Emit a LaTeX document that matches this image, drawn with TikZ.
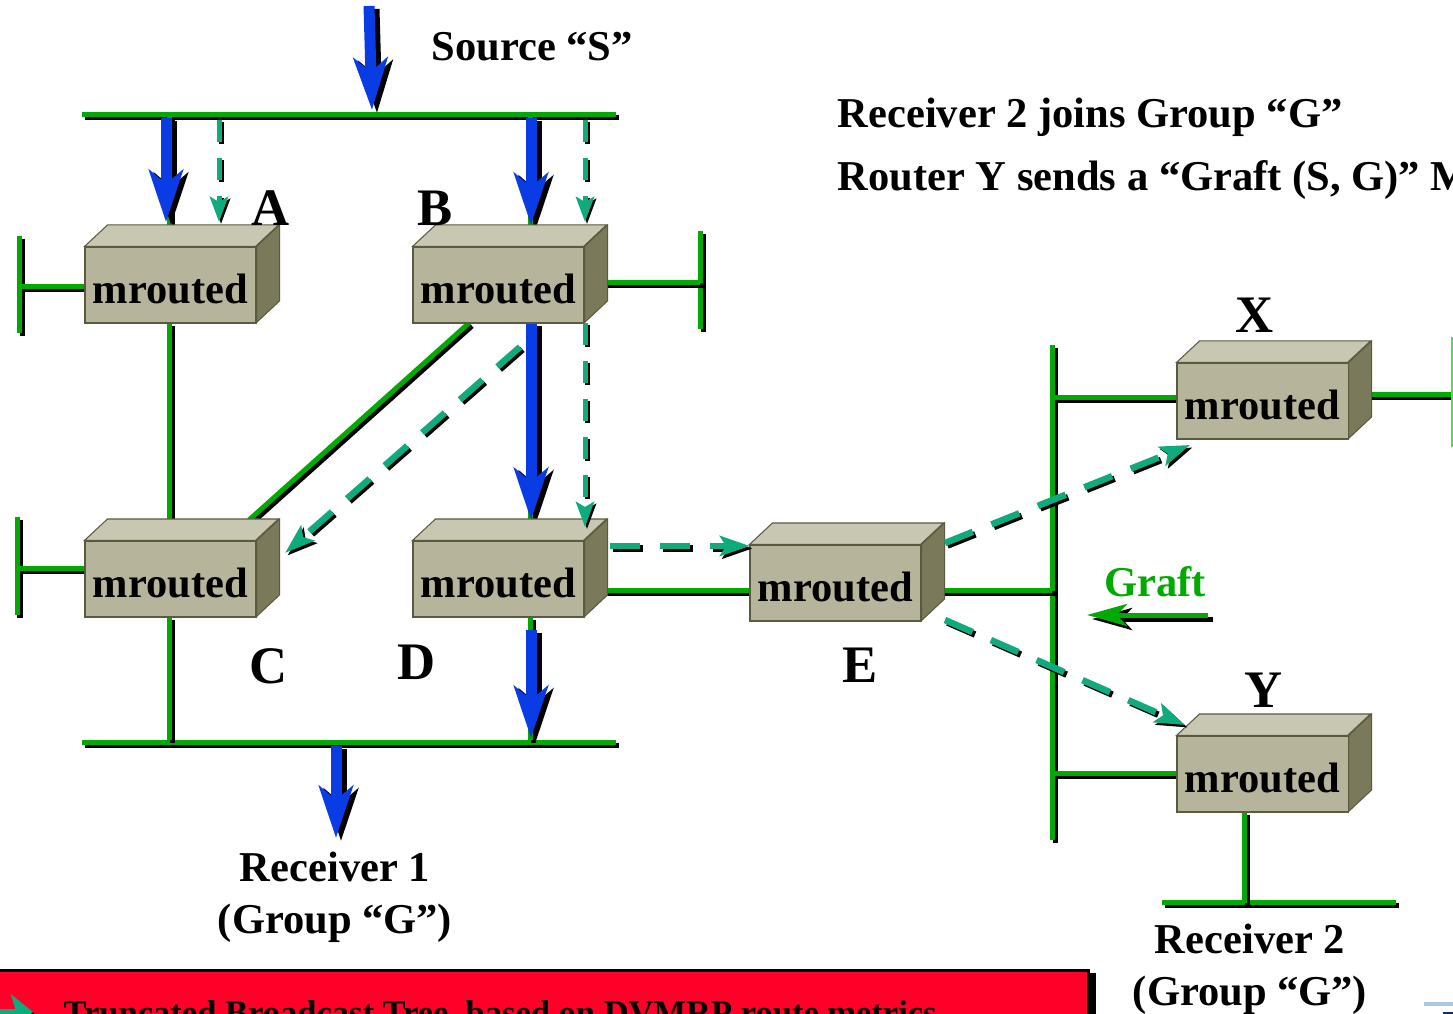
\documentclass[tikz,border=0pt]{standalone}
\usepackage{fontspec}
\setmainfont{Liberation Serif}
\usetikzlibrary{backgrounds,positioning}
\usetikzlibrary{arrows.meta, calc}
\definecolor{busGreen}{RGB}{0,170,0}
\definecolor{barGreen}{RGB}{90,215,90}
\definecolor{treeBlue}{RGB}{10,60,230}
\definecolor{graftTeal}{RGB}{15,170,125}
\definecolor{noteRed}{RGB}{255,0,40}
\definecolor{boxFront}{RGB}{182,180,155}
\definecolor{boxTop}{RGB}{200,199,178}
\definecolor{boxSide}{RGB}{122,122,90}
\definecolor{boxEdge}{RGB}{90,90,65}
\definecolor{logoBlue}{RGB}{170,200,225}
\definecolor{logoNavy}{RGB}{20,40,120}
\tikzstyle{routerNode}=[draw=boxEdge, line width=0.3pt, fill=boxFront, inner sep=0pt, minimum width=1.71cm, minimum height=0.76cm, text depth=0pt, text height=10.5pt, font=\fontsize{12.1}{14}\selectfont\bfseries]
\tikzstyle{routerFace}=[draw=boxEdge, line width=0.3pt]
\tikzstyle{letterNode}=[inner sep=0pt, anchor=base, font=\fontsize{15}{16}\selectfont\bfseries]
\tikzstyle{captionNode}=[inner sep=0pt, align=center, font=\fontsize{12.1}{14.8}\selectfont\bfseries]
\tikzstyle{busLine}=[line width=0.05cm, color=busGreen, preaction={draw=black, line width=0.05cm, transform canvas={xshift=0.03cm, yshift=-0.03cm}}]
\tikzstyle{treeArrow}=[line width=0.11cm, color=treeBlue, -{Stealth[length=5.2mm,width=3.4mm,inset=1.4mm]}, preaction={draw=black, line width=0.11cm, transform canvas={xshift=0.05cm, yshift=-0.03cm}}]
\tikzstyle{graftArrow}=[line width=0.05cm, color=graftTeal, dash pattern=on 0.22cm off 0.16cm, -{Stealth[length=2.5mm,width=1.8mm,inset=0.5mm]}, preaction={draw=black, line width=0.05cm, dash pattern=on 0.22cm off 0.16cm, transform canvas={xshift=0.02cm, yshift=-0.02cm}}]
\tikzstyle{graftWide}=[line width=0.065cm, color=graftTeal, dash pattern=on 0.3cm off 0.2cm, -{Stealth[length=3mm,width=2mm,inset=0.6mm]}, preaction={draw=black, line width=0.065cm, dash pattern=on 0.3cm off 0.2cm, transform canvas={xshift=0.025cm, yshift=-0.025cm}}]
\tikzstyle{moveArrow}=[line width=0.05cm, color=busGreen, -{Stealth[length=4mm,width=2.2mm,inset=1mm]}, preaction={draw=black, line width=0.05cm, transform canvas={xshift=0.05cm, yshift=-0.04cm}}]
\tikzstyle{bulletArrow}=[line width=0.05cm, color=graftTeal, -{Stealth[length=2.2mm,width=3.4mm,inset=0.5mm]}, preaction={draw=black, line width=0.05cm, transform canvas={xshift=0.03cm, yshift=-0.03cm}}]
\newcommand{\routerFaces}[1]{
    \draw[routerFace, fill=boxTop] (#1.north west) -- ++(0.23,0.215) -- ++(1.71,0) -- ++(-0.23,-0.215) -- cycle;
    \draw[routerFace, fill=boxSide] (#1.north east) -- ++(0.23,0.215) -- ++(0,-0.76) -- ++(-0.23,-0.215) -- cycle;
}

\begin{document}
\begin{tikzpicture}
    \useasboundingbox (0,0) rectangle (14.53,-10.14);
    \clip (0,0) rectangle (14.53,-10.14);

    % Router Nodes
    \node[routerNode] (routerA) at (1.705, -2.85) {mrouted};
    \node[routerNode] (routerB) at (4.985, -2.85) {mrouted};
    \node[routerNode] (routerC) at (1.705, -5.79) {mrouted};
    \node[routerNode] (routerD) at (4.985, -5.79) {mrouted};
    \node[routerNode] (routerE) at (8.355, -5.83) {mrouted};
    \node[routerNode] (routerX) at (12.625, -4.01) {mrouted};
    \node[routerNode] (routerY) at (12.625, -7.74) {mrouted};
    \routerFaces{routerA}
    \routerFaces{routerB}
    \routerFaces{routerC}
    \routerFaces{routerD}
    \routerFaces{routerE}
    \routerFaces{routerX}
    \routerFaces{routerY}

    % Router Letters
    \node[letterNode] (letterA) at (2.71, -2.26) {A};
    \node[letterNode] (letterB) at (4.35, -2.26) {B};
    \node[letterNode] (letterC) at (2.69, -6.83) {C};
    \node[letterNode] (letterD) at (4.17, -6.79) {D};
    \node[letterNode] (letterE) at (8.60, -6.82) {E};
    \node[letterNode] (letterX) at (12.55, -3.33) {X};
    \node[letterNode] (letterY) at (12.64, -7.07) {Y};

    % Captions
    \node[captionNode, anchor=base west] (sourceText) at (4.31, -0.61) {Source “S”};
    \node[captionNode, anchor=base west] (joinText) at (8.37, -1.28) {Receiver 2 joins Group “G”};
    \node[captionNode, anchor=base west] (graftMsgText) at (8.37, -1.91) {Router Y sends a “Graft (S, G)” M};
    \node[captionNode] (receiverOne) at (3.35, -8.97) {Receiver 1\\(Group “G”)};
    \node[captionNode] (receiverTwo) at (12.50, -9.69) {Receiver 2\\(Group “G”)};
    \node[captionNode, anchor=base, color=busGreen] (graftText) at (11.55, -5.96) {Graft};

    % Bus Ends
    \coordinate (topBusL) at (0.82, -1.145);
    \coordinate (topBusR) at (6.16, -1.145);
    \coordinate (lowBusL) at (0.82, -7.425);
    \coordinate (lowBusR) at (6.16, -7.425);
    \coordinate (recvBusL) at (11.62, -9.025);
    \coordinate (recvBusR) at (13.96, -9.025);
    \coordinate (farBusT) at (10.52, -3.45);
    \coordinate (farBusB) at (10.52, -8.40);
    \coordinate (barAT) at (0.19, -2.36);
    \coordinate (barAB) at (0.19, -3.33);
    \coordinate (barBT) at (7.00, -2.31);
    \coordinate (barBB) at (7.00, -3.29);
    \coordinate (barCT) at (0.17, -5.17);
    \coordinate (barCB) at (0.17, -6.15);
    \coordinate (barXT) at (14.52, -3.37);
    \coordinate (barXB) at (14.52, -4.47);

    % Stub Ends
    \coordinate (stubA) at (0.19, -2.865);
    \coordinate (stubB) at (7.00, -2.825);
    \coordinate (stubC) at (0.17, -5.685);
    \coordinate (stubX) at (14.53, -3.945);
    \coordinate (stubFarE) at (10.52, -5.905);
    \coordinate (stubFarX) at (10.52, -3.975);
    \coordinate (stubFarY) at (10.52, -7.735);
    \coordinate (busA) at (1.69, -1.15);
    \coordinate (busB) at (5.30, -1.15);
    \coordinate (boxATop) at (1.69, -2.47);
    \coordinate (boxABot) at (1.69, -3.23);
    \coordinate (boxBTop) at (5.30, -2.47);
    \coordinate (boxBBot) at (5.30, -3.23);
    \coordinate (boxCTop) at (1.69, -5.41);
    \coordinate (boxCBot) at (1.69, -6.17);
    \coordinate (boxDTop) at (5.30, -5.41);
    \coordinate (boxDBot) at (5.30, -6.17);
    \coordinate (lowC) at (1.69, -7.40);
    \coordinate (lowD) at (5.30, -7.40);
    \coordinate (recvY) at (12.44, -9.03);
    \coordinate (boxYBot) at (12.44, -8.12);
    \coordinate (diagB) at (4.69, -3.23);
    \coordinate (diagC) at (2.49, -5.20);

    % Blue Arrow Ends
    \coordinate (srcIn) at (3.69, -0.06);
    \coordinate (srcOut) at (3.72, -1.10);
    \coordinate (treeAIn) at (1.66, -1.18);
    \coordinate (treeAOut) at (1.66, -2.22);
    \coordinate (treeBIn) at (5.31, -1.18);
    \coordinate (treeBOut) at (5.31, -2.25);
    \coordinate (treeDIn) at (5.31, -3.23);
    \coordinate (treeDOut) at (5.31, -5.20);
    \coordinate (treeLowIn) at (5.31, -6.30);
    \coordinate (treeLowOut) at (5.31, -7.38);
    \coordinate (treeRecvIn) at (3.36, -7.46);
    \coordinate (treeRecvOut) at (3.36, -8.38);

    % Teal Arrow Ends
    \coordinate (graftAIn) at (2.19, -1.20);
    \coordinate (graftAOut) at (2.19, -2.22);
    \coordinate (graftBIn) at (5.85, -1.20);
    \coordinate (graftBOut) at (5.85, -2.22);
    \coordinate (graftDIn) at (5.85, -3.23);
    \coordinate (graftDOut) at (5.85, -5.27);
    \coordinate (graftCIn) at (5.20, -3.47);
    \coordinate (graftCOut) at (2.85, -5.53);
    \coordinate (graftEIn) at (6.10, -5.46);
    \coordinate (graftEOut) at (7.50, -5.46);
    \coordinate (graftXIn) at (9.45, -5.43);
    \coordinate (graftXOut) at (11.90, -4.45);
    \coordinate (graftYIn) at (9.45, -6.20);
    \coordinate (graftYOut) at (11.85, -7.25);
    \coordinate (moveIn) at (12.08, -6.15);
    \coordinate (moveOut) at (10.87, -6.15);
    \coordinate (bulletIn) at (-0.30, -10.11);
    \coordinate (bulletOut) at (0.33, -10.12);

    \begin{pgfonlayer}{background}
    % Green Lines
    \draw[busLine] (topBusL) -- (topBusR);
    \draw[busLine] (lowBusL) -- (lowBusR);
    \draw[busLine] (recvBusL) -- (recvBusR);
    \draw[busLine] (farBusT) -- (farBusB);
    \draw[busLine] (barAT) -- (barAB);
    \draw[busLine] (barBT) -- (barBB);
    \draw[busLine] (barCT) -- (barCB);
    \draw[busLine] (boxABot) -- (boxCTop);
    \draw[busLine] (busA) -- (boxATop);
    \draw[busLine] (busB) -- (boxBTop);
    \draw[busLine] (boxCBot) -- (lowC);
    \draw[busLine] (boxDBot) -- (lowD);
    \draw[busLine] (boxBBot) -- (boxDTop);
    \draw[busLine] (stubA) -- (routerA.west |- stubA);
    \draw[busLine] (routerB.east |- stubB) -- (stubB);
    \draw[busLine] (stubC) -- (routerC.west |- stubC);
    \draw[busLine] (diagB) -- (diagC);
    \draw[busLine] (routerD.east |- stubFarE) -- (routerE.west |- stubFarE);
    \draw[busLine] (routerE.east |- stubFarE) -- (stubFarE);
    \draw[busLine] (stubFarX) -- (routerX.west |- stubFarX);
    \draw[busLine] (stubFarY) -- (routerY.west |- stubFarY);
    \draw[busLine] (routerX.east |- stubX) -- (stubX);
    \draw[busLine] (boxYBot) -- (recvY);
    \draw[line width=0.03cm, color=barGreen] (barXT) -- (barXB);

    % Blue Tree Arrows
    \draw[treeArrow] (srcIn) -- (srcOut);
    \draw[treeArrow] (treeAIn) -- (treeAOut);
    \draw[treeArrow] (treeBIn) -- (treeBOut);
    \draw[treeArrow] (treeDIn) -- (treeDOut);
    \draw[treeArrow] (treeLowIn) -- (treeLowOut);
    \draw[treeArrow] (treeRecvIn) -- (treeRecvOut);
    \end{pgfonlayer}

    % Graft Arrows
    \draw[graftArrow] (graftAIn) -- (graftAOut);
    \draw[graftArrow] (graftBIn) -- (graftBOut);
    \draw[graftArrow] (graftDIn) -- (graftDOut);
    \draw[graftWide] (graftCIn) -- (graftCOut);
    \draw[graftWide] (graftEIn) -- (graftEOut);
    \draw[graftWide] (graftXIn) -- (graftXOut);
    \draw[graftWide] (graftYIn) -- (graftYOut);
    \draw[moveArrow] (moveIn) -- (moveOut);

    % Red Note
    \fill[black] (1.0,-9.73) rectangle (10.96,-10.3);
    \draw[line width=0.03cm, fill=noteRed] (-0.1,-9.70) rectangle (10.88,-10.3);
    \node[captionNode, anchor=base west, font=\fontsize{9.82}{12}\selectfont\bfseries] (noteText) at (0.63, -10.24) {Truncated Broadcast Tree, based on DVMRP route metrics};
    \draw[bulletArrow] (bulletIn) -- (bulletOut);

    % Logo Corner
    \fill[logoBlue] (14.24,-10.02) rectangle (14.53,-10.06);
    \fill[logoNavy] (14.43,-10.12) rectangle (14.53,-10.14);
\end{tikzpicture}
\end{document}
